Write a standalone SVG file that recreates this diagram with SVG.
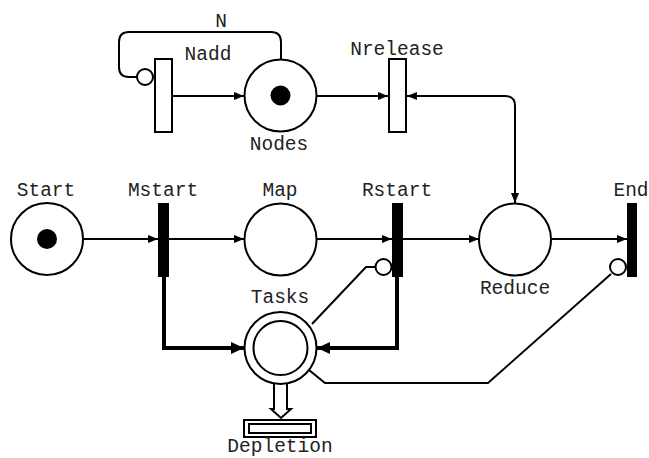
<svg xmlns="http://www.w3.org/2000/svg" width="649" height="458" viewBox="0 0 649 458">
<style>
text{font-family:"Liberation Mono","Courier New",monospace;font-size:19.5px;fill:#222;text-anchor:middle}
.pl{fill:#fff;stroke:#000;stroke-width:2}
.tk{fill:#000}
.tb{fill:#000}
.tw{fill:#fff;stroke:#000;stroke-width:2}
.arc{fill:none;stroke:#000;stroke-width:2}
.thick{fill:none;stroke:#000;stroke-width:4}
</style>
<defs>
<marker id="ah" viewBox="0 0 10 8" refX="10" refY="4" markerWidth="10" markerHeight="8" markerUnits="userSpaceOnUse" orient="auto"><path d="M0 0L10 4L0 8z" fill="#000"/></marker>
<marker id="ahb" viewBox="0 0 13 12" refX="13" refY="6" markerWidth="13" markerHeight="12" markerUnits="userSpaceOnUse" orient="auto"><path d="M0 0L13 6L0 12z" fill="#000"/></marker>
<marker id="ahs" viewBox="0 0 10 8" refX="10" refY="4" markerWidth="10" markerHeight="8" markerUnits="userSpaceOnUse" orient="auto-start-reverse"><path d="M0 0L10 4L0 8z" fill="#000"/></marker>
</defs>
<g id="connectors">
<path class="arc" d="M83 239H158" marker-end="url(#ah)"/>
<path class="arc" d="M169 239H244" marker-end="url(#ah)"/>
<path class="arc" d="M317 239H392" marker-end="url(#ah)"/>
<path class="arc" d="M403 239H479" marker-end="url(#ah)"/>
<path class="arc" d="M551 239H627" marker-end="url(#ah)"/>
<path class="arc" d="M172 96H244" marker-end="url(#ah)"/>
<path class="arc" d="M317 96H388" marker-end="url(#ah)"/>
<path class="arc" d="M407 96H505Q515 96 515 106V203" marker-start="url(#ahs)" marker-end="url(#ahs)"/>
<path class="arc" d="M281 59V42Q281 32 271 32H129Q119 32 119 42V67Q119 77 129 77H137"/>
<path class="thick" d="M164 277V348H244" marker-end="url(#ahb)"/>
<path class="thick" d="M397 277V348H317" marker-end="url(#ahb)"/>
<path class="arc" d="M375 267H366L312 324"/>
<path class="arc" d="M611 274L488 383H325L309 370"/>
<path d="M274 384V409H271L281 418L291 409H287V384" fill="#fff" stroke="#000" stroke-width="2"/>
</g>
<g id="Start"><circle class="pl" cx="47" cy="239" r="36"/><circle class="tk" cx="47" cy="239" r="10"/><text x="46" y="196">Start</text></g>
<g id="Mstart"><rect class="tb" x="158" y="203" width="11" height="74"/><text x="163" y="196">Mstart</text></g>
<g id="Map"><circle class="pl" cx="280.5" cy="239.5" r="36"/><text x="280" y="196">Map</text></g>
<g id="Rstart"><rect class="tb" x="392" y="203" width="11" height="74"/><circle class="pl" cx="383.5" cy="267" r="8"/><text x="397" y="196">Rstart</text></g>
<g id="Reduce"><circle class="pl" cx="515" cy="239.5" r="36"/><text x="515" y="294">Reduce</text></g>
<g id="End"><rect class="tb" x="627" y="203" width="10" height="74"/><circle class="pl" cx="618" cy="267" r="8"/><text x="631" y="196">End</text></g>
<g id="Nodes"><circle class="pl" cx="280.5" cy="95.5" r="36"/><circle class="tk" cx="280.5" cy="95.5" r="10"/><text x="279" y="150">Nodes</text></g>
<g id="Nadd"><rect class="tw" x="155" y="59" width="17" height="73"/><circle class="pl" cx="145" cy="77" r="8"/><text x="208" y="60">Nadd</text><text x="221" y="27">N</text></g>
<g id="Nrelease"><rect class="tw" x="389" y="59" width="17" height="73"/><text x="397" y="55">Nrelease</text></g>
<g id="Tasks"><circle class="pl" cx="280.5" cy="348" r="36"/><circle class="pl" cx="280.5" cy="348" r="27"/><text x="280" y="303">Tasks</text></g>
<g id="Depletion"><rect class="tw" x="244" y="420" width="72" height="17"/><rect class="tw" x="249" y="424" width="62" height="9"/><text x="280" y="452">Depletion</text></g>
</svg>
